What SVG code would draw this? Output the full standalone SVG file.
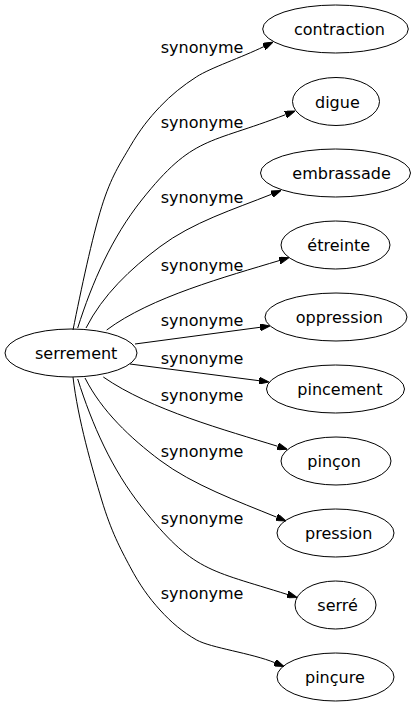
<svg xmlns="http://www.w3.org/2000/svg" width="416" height="707" viewBox="0 0 416 707">
<defs>
<style>
.node ellipse{fill:none;stroke:#000;stroke-width:1}
.node text{font-family:"DejaVu Sans",Verdana,sans-serif;font-size:16px;fill:#000}
.edges path{fill:none;stroke:#000;stroke-width:1;marker-end:url(#arr)}
.lbl text{font-family:"DejaVu Sans",Verdana,sans-serif;font-size:16px;fill:#000}
</style>
<marker id="arr" viewBox="0 -3.5 10 7" refX="0" refY="0" markerWidth="10" markerHeight="7" markerUnits="userSpaceOnUse" orient="auto">
<path d="M0,-3.5 L10,0 L0,3.5 Z" fill="#000" stroke="#000" stroke-width="1"/>
</marker>
</defs>
<rect width="416" height="707" fill="#fff"/>
<g id="edges" class="edges">
<path d="M73,330 C81,290 92.2,237.2 101.7,206.7 C111.2,176.2 120.3,163.4 130,146.7 C139.7,130 148.9,118.4 160,106.7 C171.1,95 182.8,85.6 196.7,76.7 C210.6,67.8 241.5,57.5 264,46.5"/>
<path d="M77.7,328 C92.1,282.4 111.9,237.4 141.7,200 C193.2,135.2 208.5,144.5 285.7,114.6"/>
<path d="M86,328 C102.7,295 130.4,268.9 160,246.7 C192.8,222.1 233.6,209.4 271.7,194.2"/>
<path d="M106.7,330 C150.7,297 226.7,276.5 279.5,260.5"/>
<path d="M135,344 L260.1,327.3"/>
<path d="M130,364 L259.1,380.7"/>
<path d="M103.3,377 C150.7,410 226.7,430.5 277.7,446.3"/>
<path d="M85,378 C101.7,411 130.4,438.1 160,460.3 C192.8,484.9 237.6,501.2 276.7,517.2"/>
<path d="M77.7,379 C92.1,424.6 111.9,469.6 141.7,507 C193.2,571.8 208.6,569.6 287.5,594.5"/>
<path d="M73,377 C78,420 92.2,468.4 101.7,500 C111.2,531.6 120.3,548.4 130,566.7 C139.7,585 148.9,597.8 160,610 C171.1,622.2 182.8,632.2 196.7,640 C210.6,647.8 251.8,653.2 274.8,662.7"/>
</g>
<g id="labels" class="lbl">
<text x="160.7" y="52.7">synonyme</text>
<text x="160.7" y="127.7">synonyme</text>
<text x="160.7" y="202.7">synonyme</text>
<text x="160.7" y="270.7">synonyme</text>
<text x="160.7" y="326.3">synonyme</text>
<text x="160.7" y="363.5">synonyme</text>
<text x="160.7" y="400.5">synonyme</text>
<text x="160.7" y="456.5">synonyme</text>
<text x="160.7" y="524.3">synonyme</text>
<text x="160.7" y="599.3">synonyme</text>
</g>
<g id="n-serrement" class="node"><ellipse cx="71" cy="353" rx="66" ry="24"/><text x="35" y="359">serrement</text></g>
<g id="n-contraction" class="node"><ellipse cx="335.5" cy="29" rx="72.8" ry="24"/><text x="294" y="35.3">contraction</text></g>
<g id="n-digue" class="node"><ellipse cx="336" cy="101.5" rx="43.5" ry="24"/><text x="315" y="107.5">digue</text></g>
<g id="n-embrassade" class="node"><ellipse cx="335.5" cy="173" rx="75" ry="24"/><text x="292.3" y="179">embrassade</text></g>
<g id="n-etreinte" class="node"><ellipse cx="335.5" cy="245" rx="54.5" ry="24"/><text x="307.3" y="251">étreinte</text></g>
<g id="n-oppression" class="node"><ellipse cx="336" cy="317" rx="71" ry="24"/><text x="295.7" y="323">oppression</text></g>
<g id="n-pincement" class="node"><ellipse cx="335.5" cy="389" rx="69" ry="24"/><text x="297.3" y="395">pincement</text></g>
<g id="n-pincon" class="node"><ellipse cx="336" cy="461" rx="55" ry="24"/><text x="307.3" y="467">pinçon</text></g>
<g id="n-pression" class="node"><ellipse cx="335.5" cy="533" rx="58.5" ry="24"/><text x="305" y="539">pression</text></g>
<g id="n-serre" class="node"><ellipse cx="335.5" cy="605" rx="40.5" ry="24"/><text x="317.3" y="611">serré</text></g>
<g id="n-pincure" class="node"><ellipse cx="335.5" cy="677" rx="58.5" ry="24"/><text x="305" y="683">pinçure</text></g>
</svg>
